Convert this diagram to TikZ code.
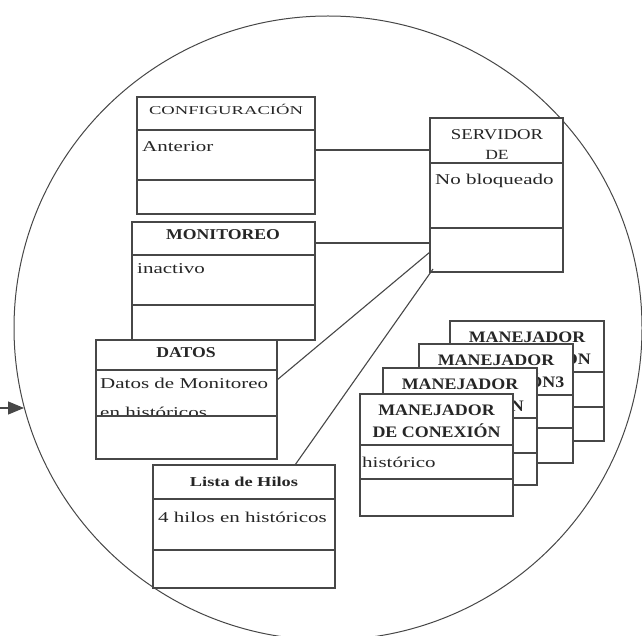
\documentclass[tikz,border=0pt]{standalone}
\usepackage{fontspec}
\setmainfont{Liberation Serif}
% widened serif faces for the box texts
\newfontfamily\fbody[FakeStretch=1.4]{Liberation Serif}
\newfontfamily\fwide[FakeStretch=1.55]{Liberation Serif}
\newfontfamily\fserv[FakeStretch=1.25]{Liberation Serif}
\newfontfamily\fbold[FakeStretch=1.18]{Liberation Serif}
\newfontfamily\flista[FakeStretch=1.35]{Liberation Serif}
\newfontfamily\fman[FakeStretch=1.12]{Liberation Serif}
\usetikzlibrary{arrows.meta,calc,shapes.geometric}

\newcommand{\manfont}{\fman\bfseries\fontsize{16}{18}\selectfont}
\newlength\manw
\newlength\manwb

% two divider lines of a class box, given as offsets from its top edge
\newcommand{\compartments}[3]{%
  \draw[wire] ($(#1.north west)+(0,#2)$) -- ($(#1.north east)+(0,#2)$);
  \draw[wire] ($(#1.north west)+(0,#3)$) -- ($(#1.north east)+(0,#3)$);}
% first title line of a connection handler box
\newcommand{\mantitle}[1]{%
  \node[ttl, font=\manfont] (#1-t1) at ($(#1.north)+(0,21)$) {MANEJADOR};}

\begin{document}
% half widths of the second title lines, used to place their visible ends
\settowidth\manw{\manfont DE CONEXIÓN}%
\settowidth\manwb{\manfont DE CONEXIÓN3}%
\pgfmathsetmacro\manhalf{0.5*\manw}%
\pgfmathsetmacro\manhalfb{0.5*\manwb}%
\begin{tikzpicture}[x=1pt,y=-1pt,
  umlbox/.style={draw=black!72, line width=1.1pt, fill=white, anchor=north west,
    inner sep=0pt, outer sep=0pt},
  wire/.style={draw=black!72, line width=1.1pt},
  ttl/.style={anchor=base, inner sep=0pt, text=black!85},
  tail/.style={anchor=base east, inner sep=0pt, text=black!85, font=\manfont},
  txt/.style={anchor=base west, inner sep=0pt, text=black!85,
    font=\fbody\fontsize{15}{17}\selectfont},
]
\useasboundingbox (0,0) rectangle (642,636);

% enclosing circle and incoming arrow
\node[draw=black!72, line width=1pt, ellipse, minimum width=628pt, minimum height=624pt,
  inner sep=0pt] (ring) at (328,328) {};
\coordinate (src) at (0,408);
\coordinate (hit) at (24,408);
\draw[wire, -{Triangle[length=16pt,width=13pt]}] (src) -- (hit);

% CONFIGURACION
\node[umlbox, minimum width=178pt, minimum height=117pt] (conf) at (137,97) {};
\compartments{conf}{33}{83}
\node[ttl, font=\fwide\fontsize{12}{14}\selectfont] (conf-t) at (226,115) {CONFIGURACIÓN};
\node[txt] (conf-b) at (142,152) {Anterior};

% MONITOREO
\node[umlbox, minimum width=183pt, minimum height=118pt] (mon) at (132,222) {};
\compartments{mon}{33}{83}
\node[ttl, font=\fbold\bfseries\fontsize{15}{17}\selectfont] (mon-t) at (223,240) {MONITOREO};
\node[txt] (mon-b) at (137,273) {inactivo};

% DATOS
\node[umlbox, minimum width=181pt, minimum height=119pt] (datos) at (96,340) {};
\node[ttl, font=\fbold\bfseries\fontsize{15}{17}\selectfont] (datos-t) at (186,357) {DATOS};
\node[txt] (datos-b1) at (100,388) {Datos de Monitoreo};
\node[txt] (datos-b2) at (100,417.5) {en históricos};
\fill[white] ($(datos.north west)+(1,76)$) rectangle ($(datos.south east)+(-1,-1)$);
\compartments{datos}{30}{76}

% Lista de Hilos
\node[umlbox, minimum width=182pt, minimum height=123pt] (lista) at (153,465) {};
\compartments{lista}{34}{85}
\node[ttl, font=\flista\bfseries\fontsize{13.6}{16}\selectfont] (lista-t) at (244,486) {Lista de Hilos};
\node[txt] (lista-b) at (158,522) {4 hilos en históricos};

% SERVIDOR DE
\node[umlbox, minimum width=133pt, minimum height=154pt] (serv) at (430,118) {};
\compartments{serv}{45}{110}
\node[ttl, font=\fserv\fontsize{15}{17}\selectfont] (serv-t1) at (497,140) {SERVIDOR};
\node[ttl, font=\fserv\fontsize{14}{16}\selectfont] (serv-t2) at (497,159.5) {DE};
\node[txt] (serv-b) at (435,185) {No bloqueado};

% stacked connection handlers, back to front
\node[umlbox, minimum width=154pt, minimum height=120pt] (man1) at (450,321) {};
\compartments{man1}{51}{86}
\mantitle{man1}
\node[tail] (man1-t2) at ($(man1.north)+(\manhalf,43)$) {ÓN};

\node[umlbox, minimum width=154pt, minimum height=119pt] (man2) at (419,344) {};
\compartments{man2}{51}{84}
\mantitle{man2}
\node[tail] (man2-t2) at ($(man2.north)+(\manhalfb,43)$) {ÓN3};

\node[umlbox, minimum width=154pt, minimum height=117pt] (man3) at (383,368) {};
\compartments{man3}{50}{85}
\mantitle{man3}
\node[tail] (man3-t2) at ($(man3.north)+(\manhalf,43)$) {N};

\node[umlbox, minimum width=153pt, minimum height=122pt] (man4) at (360,394) {};
\compartments{man4}{51}{85}
\mantitle{man4}
\node[ttl, font=\manfont] (man4-t2) at ($(man4.north)+(0,43)$) {DE CONEXIÓN};
\node[txt] (man4-b) at (362,467) {histórico};

% associations with the server
\draw[wire] ($(conf.north east)+(0,53)$) -- ($(serv.north west)+(0,32)$);
\draw[wire] ($(mon.north east)+(0,21)$) -- ($(serv.north west)+(0,125)$);
\draw[wire] ($(datos.north east)+(0,40)$) -- ($(serv.north west)+(0,134)$);
\draw[wire] ($(lista.north west)+(142,0)$) -- ($(serv.south west)+(3,-3)$);
\draw[wire] ($(serv.south west)+(20,0)$) -- ($(serv.south west)+(20,0)$ |- man3.north);
\draw[wire] ($(serv.south west)+(38,0)$) -- ($(serv.south west)+(38,0)$ |- man2.north);
\draw[wire] ($(serv.south west)+(58,0)$) -- ($(serv.south west)+(58,0)$ |- man1.north);
\end{tikzpicture}
\end{document}
